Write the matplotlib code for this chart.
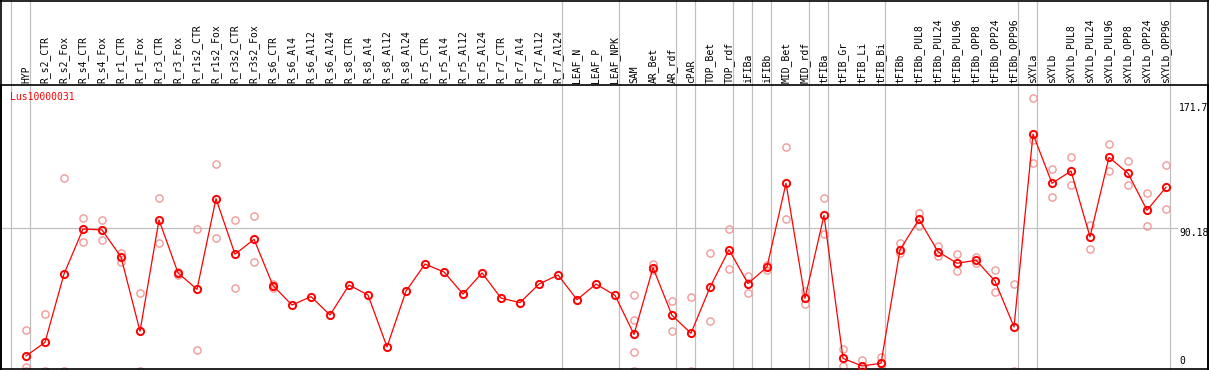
import matplotlib
matplotlib.use("Agg")
import matplotlib.pyplot as plt
from matplotlib.lines import Line2D
from matplotlib.transforms import blended_transform_factory

gene = "Lus10000031"

samples = ["HYP", "R_s2_CTR", "R_s2_Fox", "R_s4_CTR", "R_s4_Fox", "R_r1_CTR", "R_r1_Fox",
           "R_r3_CTR", "R_r3_Fox", "R_r1s2_CTR", "R_r1s2_Fox", "R_r3s2_CTR", "R_r3s2_Fox",
           "R_s6_CTR", "R_s6_Al4", "R_s6_Al12", "R_s6_Al24", "R_s8_CTR", "R_s8_Al4",
           "R_s8_Al12", "R_s8_Al24", "R_r5_CTR", "R_r5_Al4", "R_r5_Al12", "R_r5_Al24",
           "R_r7_CTR", "R_r7_Al4", "R_r7_Al12", "R_r7_Al24", "LEAF_N", "LEAF_P", "LEAF_NPK",
           "SAM", "AR_Bet", "AR_rdf", "cPAR", "TOP_Bet", "TOP_rdf", "iFIBa", "iFIBb",
           "MID_Bet", "MID_rdf", "tFIBa", "tFIB_Gr", "tFIB_Li", "tFIB_Bi", "tFIBb",
           "tFIBb_PUL8", "tFIBb_PUL24", "tFIBb_PUL96", "tFIBb_OPP8", "tFIBb_OPP24",
           "tFIBb_OPP96", "sXYLa", "sXYLb", "sXYLb_PUL8", "sXYLb_PUL24", "sXYLb_PUL96",
           "sXYLb_OPP8", "sXYLb_OPP24", "sXYLb_OPP96"]

means = [9.4, 18.0, 61.0, 89.4, 88.8, 71.8, 25.0, 95.1, 61.7, 51.4, 108.5, 73.5, 82.9,
         53.7, 41.5, 46.8, 35.2, 54.1, 47.8, 15.1, 50.3, 67.3, 62.3, 48.4, 61.7,
         45.9, 43.0, 54.7, 60.4, 44.9, 54.7, 47.6,
         23.0, 65.0, 35.0, 23.7, 52.7, 76.3, 55.0, 65.5, 118.2, 45.7, 98.0,
         7.9, 3.1, 4.8, 76.3, 95.5, 75.1, 67.8, 69.7, 56.6, 27.7,
         149.2, 118.2, 125.9, 84.4, 134.6, 124.5, 101.2, 115.7]

replicates = [[25.5, 2.7, 0], [35.8, 0], [121.5, 0], [96.4, 81.1], [94.9, 82.3],
              [74.5, 68.4], [49.1, 0], [108.8, 80.7], [62.5, 60.5], [89.3, 13.2],
              [130.6, 83.7], [94.9, 52.1], [97.4, 68.4], [55.0, 52.5], [], [], [],
              [], [], [], [], [], [], [], [], [], [], [], [], [], [], [],
              [47.8, 31.9, 11.7, 0], [67.6, 63.8], [44.0, 25.1], [46.5, 0],
              [74.4, 31.7], [89.3, 64.0], [59.7, 49.3], [66.4, 63.8], [140.8, 95.5],
              [50.1, 41.9], [108.7, 86.4], [13.8, 2.9], [6.8, 0], [8.8, 0.8],
              [80.4, 74.5], [99.5, 91.5], [78.9, 72.6], [73.6, 62.7], [71.8, 67.8],
              [63.4, 49.9], [54.6, 0], [171.7, 145.5, 130.8], [127.0, 109.4],
              [134.6, 116.9], [91.9, 76.8], [142.9, 126.1], [132.0, 116.9],
              [111.9, 91.1], [129.5, 102.0]]

group_ends = [-1, 0, 28, 31, 34, 35, 37, 38, 39, 41, 42, 45, 52, 53, 60]
y_labels = ["171.7", "90.18", "0"]
y_values = [171.7, 90.18, 0]

mono = "DejaVu Sans Mono"
grid_c = "#c0c0c0"

fig = plt.figure(figsize=(12.09, 3.70), dpi=100)
ax = fig.add_axes([1 / 1209, 1 / 370, 1207 / 1209, 284 / 370])
ax.set_xlim(-1.316, 62.21)
ax.set_ylim(1.2, 180.1)
ax.set_xticks([])
ax.set_yticks([])
for s in ax.spines.values():
    s.set_linewidth(1.2)
    s.set_color("black")

# vertical group separators run up through the label band
for g in group_ends:
    ax.axvline(g + 0.22, ymin=0, ymax=369 / 284, color=grid_c, lw=0.9,
               clip_on=False, zorder=1)
ax.axhline(y_values[1], xmin=0, xmax=0.974, color=grid_c, lw=0.9, zorder=1)

x = list(range(len(samples)))
rx = [i for i, r in enumerate(replicates) for _ in r]
ry = [v for r in replicates for v in r]
ax.plot(rx, ry, ls="none", marker="o", ms=5.2, mfc="none", mec="#f09a9a", mew=1.0,
        zorder=2)
ax.plot(x, means, color="red", lw=0.9, marker="o", ms=5.2, mfc="none", mec="red",
        mew=1.4, zorder=3)

tr = blended_transform_factory(ax.transData, ax.transAxes)
for i, name in enumerate(samples):
    ax.text(i, 1 + 2 / 284, name, transform=tr, rotation=90, ha="center", va="bottom",
            fontsize=7, family=mono)

ax.text(9 / 1207, 0.958, gene, transform=ax.transAxes, color="red", fontsize=7,
        family=mono, va="center", ha="left")

tr2 = blended_transform_factory(ax.transAxes, ax.transData)
for lab, v, va, off in zip(y_labels, y_values, ["top", "top", "bottom"], [-3, 0, 3]):
    ax.text(0.976, v + off, lab, transform=tr2, fontsize=7, family=mono, va=va, ha="left")

# outer frame around the whole picture
for xs, ys in [([0.0008, 0.0008], [0, 1]), ([0.9992, 0.9992], [0, 1]), ([0, 1], [0.9985, 0.9985])]:
    fig.add_artist(Line2D(xs, ys, color="black", lw=1.2, transform=fig.transFigure))

fig.savefig("out.png", dpi=100, facecolor="white")
